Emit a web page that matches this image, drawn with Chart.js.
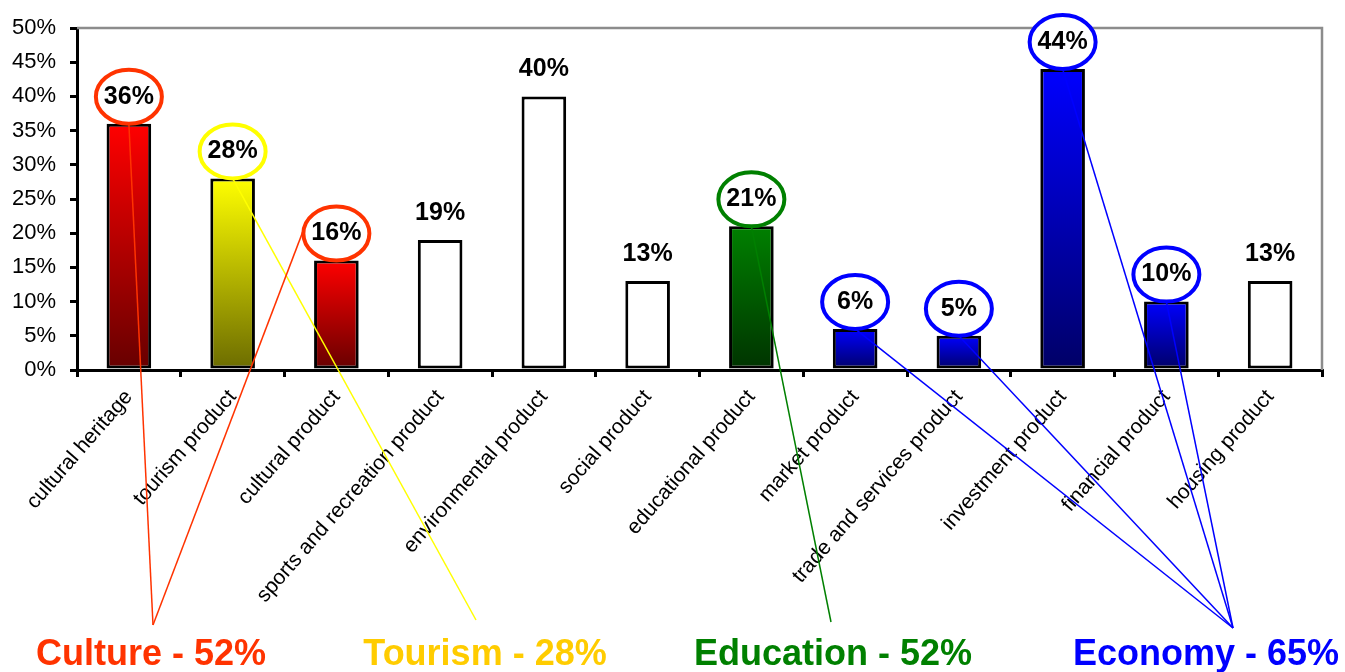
<!DOCTYPE html>
<html>
<head>
<meta charset="utf-8">
<script src="https://cdn.jsdelivr.net/npm/chart.js@4.4.1/dist/chart.umd.min.js"></script>
<style>
  html, body { margin: 0; padding: 0; background: #ffffff; }
  #wrap { width: 1345px; height: 672px; }
</style>
</head>
<body>
<div id="wrap"><canvas id="chart" width="1345" height="672"></canvas></div>
<script>
// Product categories and the share of respondents for each
const categories = [
  'cultural heritage', 'tourism product', 'cultural product',
  'sports and recreation product', 'environmental product', 'social product',
  'educational product', 'market product', 'trade and services product',
  'investment product', 'financial product', 'housing product'
];
const shares = [36, 28, 16, 19, 40, 13, 21, 6, 5, 44, 10, 13];

// Thematic groups and which categories feed each one (null = none)
const groupNames = ['Culture', 'Tourism', 'Education', 'Economy'];
const groupShares = [52, 28, 52, 65];
const groupOf = [0, 1, 0, null, null, null, 2, 3, 3, 3, 3, null];

// Value axis ticks
const yTicks = [0, 5, 10, 15, 20, 25, 30, 35, 40, 45, 50];

const FONT = "'Liberation Sans', Arial, Helvetica, sans-serif";

// Look of each group: ring / line / caption colours, bar gradient, caption placement
const groupStyle = [
  { ring: '#FF3300', line: '#FF3300', text: '#FF3300', top: '#FF0000', bottom: '#660000', textX: 151, anchorX: 153, anchorY: 625 },
  { ring: '#FFFF00', line: '#FFFF00', text: '#FFCC00', top: '#FFFF00', bottom: '#6B6B00', textX: 485, anchorX: 476, anchorY: 620 },
  { ring: '#008000', line: '#008000', text: '#008000', top: '#008000', bottom: '#003300', textX: 833, anchorX: 831, anchorY: 622 },
  { ring: '#0000FF', line: '#0000FF', text: '#0000FF', top: '#0000FF', bottom: '#000066', textX: 1206, anchorX: 1233, anchorY: 628 }
];
// Where on its ring each connector leaves (degrees, 90 = bottom)
const ringExit = { 2: 190 };
const LABEL_RISE = 27;   // value label centre above bar top
const RING_RX = 33, RING_RY = 27;

function barFill(ctx) {
  const g = groupOf[ctx.dataIndex];
  if (g === null || g === undefined) return '#ffffff';
  const chart = ctx.chart;
  const ys = chart.scales.y;
  const st = groupStyle[g];
  if (!ys) return st.top;
  const yTop = ys.getPixelForValue(shares[ctx.dataIndex]);
  const yBase = ys.getPixelForValue(0);
  if (!isFinite(yTop) || !isFinite(yBase) || yTop === yBase) return st.top;
  const grad = chart.ctx.createLinearGradient(0, yTop, 0, yBase);
  grad.addColorStop(0, st.top);
  grad.addColorStop(1, st.bottom);
  return grad;
}

// Gray frame on the top and right of the plot
const framePlugin = {
  id: 'frame',
  beforeDatasetsDraw(chart) {
    const { ctx, chartArea: a } = chart;
    ctx.save();
    ctx.strokeStyle = '#8c8c8c';
    ctx.lineWidth = 2.5;
    ctx.beginPath();
    ctx.moveTo(a.left, a.top);
    ctx.lineTo(a.right, a.top);
    ctx.lineTo(a.right, a.bottom);
    ctx.stroke();
    ctx.restore();
  }
};

// Connectors, rings, value labels and group captions
const annotatePlugin = {
  id: 'annotate',
  afterDraw(chart) {
    const ctx = chart.ctx;
    const meta = chart.getDatasetMeta(0);
    ctx.save();
    // connectors
    meta.data.forEach((el, i) => {
      const g = groupOf[i];
      if (g === null) return;
      const st = groupStyle[g];
      const cx = el.x, cy = el.y - LABEL_RISE;
      const th = (ringExit[i] !== undefined ? ringExit[i] : 90) * Math.PI / 180;
      const sx = cx + RING_RX * Math.cos(th);
      const sy = cy + RING_RY * Math.sin(th);
      ctx.strokeStyle = st.line;
      ctx.lineWidth = 1.5;
      ctx.beginPath();
      ctx.moveTo(sx, sy);
      ctx.lineTo(st.anchorX, st.anchorY);
      ctx.stroke();
    });
    // rings
    meta.data.forEach((el, i) => {
      const g = groupOf[i];
      if (g === null) return;
      const cx = el.x, cy = el.y - LABEL_RISE;
      ctx.beginPath();
      ctx.ellipse(cx, cy, RING_RX, RING_RY, 0, 0, Math.PI * 2);
      ctx.fillStyle = '#ffffff';
      ctx.fill();
      ctx.strokeStyle = groupStyle[g].ring;
      ctx.lineWidth = 4;
      ctx.stroke();
    });
    // value labels
    ctx.fillStyle = '#000000';
    ctx.font = 'bold 25px ' + FONT;
    ctx.textAlign = 'center';
    ctx.textBaseline = 'middle';
    meta.data.forEach((el, i) => {
      ctx.fillText(shares[i] + '%', el.x, el.y - LABEL_RISE);
    });
    // group captions
    ctx.font = 'bold 36px ' + FONT;
    ctx.textBaseline = 'alphabetic';
    groupNames.forEach((name, g) => {
      ctx.fillStyle = groupStyle[g].text;
      ctx.fillText(name + ' - ' + groupShares[g] + '%', groupStyle[g].textX, 665);
    });
    ctx.restore();
  }
};

new Chart(document.getElementById('chart'), {
  type: 'bar',
  data: {
    labels: categories,
    datasets: [{
      data: shares,
      backgroundColor: barFill,
      borderColor: '#000000',
      borderWidth: 3,
      borderSkipped: false,
      barPercentage: 0.43,
      categoryPercentage: 1
    }]
  },
  options: {
    responsive: false,
    animation: false,
    devicePixelRatio: 1,
    layout: { padding: { top: 28, right: 23, left: 0, bottom: 0 } },
    plugins: { legend: { display: false }, tooltip: { enabled: false } },
    scales: {
      x: {
        grid: { drawOnChartArea: false, drawTicks: true, tickLength: 7, tickColor: '#000000', tickWidth: 3, color: '#000000', lineWidth: 3, offset: true },
        border: { color: '#000000', width: 3 },
        ticks: {
          autoSkip: false, maxRotation: 49, minRotation: 49,
          color: '#000000', padding: 8,
          font: { family: FONT, size: 21 }
        },
        afterFit(s) { s.height = 302; s.paddingLeft = 0; s.paddingRight = 0; }
      },
      y: {
        min: 0, max: 50,
        afterBuildTicks(s) { s.ticks = yTicks.map(v => ({ value: v })); },
        grid: { drawOnChartArea: false, drawTicks: true, tickLength: 7, tickColor: '#000000', tickWidth: 3, color: '#000000', lineWidth: 3 },
        border: { color: '#000000', width: 3 },
        ticks: {
          color: '#000000', padding: 14,
          font: { family: FONT, size: 22 },
          callback: v => v + '%'
        },
        afterFit(s) { s.width = 77; s.paddingTop = 0; s.paddingBottom = 0; }
      }
    }
  },
  plugins: [framePlugin, annotatePlugin]
});
</script>
</body>
</html>
